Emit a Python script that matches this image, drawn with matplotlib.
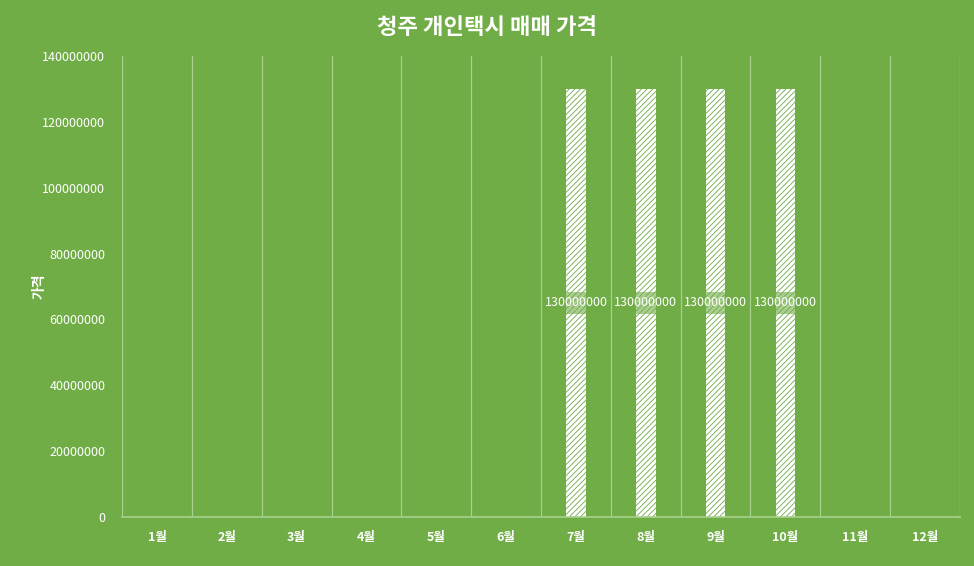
import numpy as np
import matplotlib
matplotlib.use('Agg')
import matplotlib.pyplot as plt

plt.rcParams['font.family'] = ['Noto Sans CJK KR', 'DejaVu Sans']
plt.rcParams['hatch.linewidth'] = 2.2

# data
months = ['1월', '2월', '3월', '4월', '5월', '6월', '7월', '8월', '9월', '10월', '11월', '12월']
prices = [0, 0, 0, 0, 0, 0, 130000000, 130000000, 130000000, 130000000, 0, 0]
title = '청주 개인택시 매매 가격'
y_label = '가격'

bg = '#70AD47'
grid_col = '#A9D18E'

fig = plt.figure(figsize=(9.74, 5.66), dpi=100)
fig.patch.set_facecolor(bg)
ax = fig.add_axes([0.1253, 0.0866, 0.8603, 0.8144])
ax.set_facecolor(bg)

x = np.arange(len(months))
bars = ax.bar(x, prices, width=0.28, color=bg, edgecolor='white',
              hatch='//////', linewidth=0)

# labels only for months with a price
for xi, v in zip(x, prices):
    if v > 0:
        ax.text(xi, v / 2, f'{v}', ha='center', va='center', color='white',
                fontsize=9,
                bbox=dict(boxstyle='square,pad=0.35', facecolor=bg, edgecolor='none', alpha=0.6))

ax.set_xlim(-0.5, len(months) - 0.5)
ax.set_ylim(0, 140000000)
ax.set_yticks(np.arange(0, 140000001, 20000000))
ax.yaxis.set_major_formatter(matplotlib.ticker.FuncFormatter(lambda v, p: f'{int(v)}'))
ax.set_xticks(x)
ax.set_xticklabels(months, fontweight='bold')

# vertical gridlines between categories
for b in np.arange(-0.5, len(months) + 0.5, 1):
    ax.axvline(b, color=grid_col, linewidth=0.9, zorder=5)

for s in ['top', 'right', 'left']:
    ax.spines[s].set_visible(False)
ax.spines['bottom'].set_color(grid_col)
ax.spines['bottom'].set_linewidth(1.2)

ax.tick_params(axis='both', length=0, colors='white', labelsize=9)
ax.tick_params(axis='x', pad=10)
ax.tick_params(axis='y', pad=12)

ax.set_ylabel(y_label, color='white', fontsize=10, fontweight='bold')
ax.yaxis.set_label_coords(-0.09, 0.5)
fig.text(0.5, 0.952, title, ha='center', va='center', color='white',
         fontsize=16, fontweight='bold')

fig.savefig('out.png', dpi=100, facecolor=bg)
